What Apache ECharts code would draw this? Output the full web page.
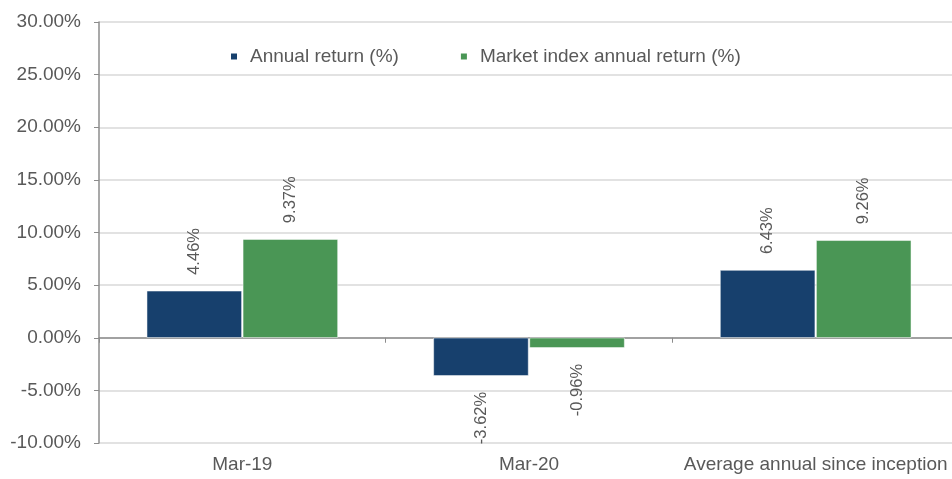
<!DOCTYPE html>
<html>
<head>
<meta charset="utf-8">
<script src="https://cdn.jsdelivr.net/npm/echarts@6/dist/echarts.min.js"></script>
<style>
  html, body { margin: 0; padding: 0; background: #fff; }
  #chart { width: 952px; height: 479px; }
</style>
</head>
<body>
<div id="chart"></div>
<script>
// categories and values (percent)
var categories = ['Mar-19', 'Mar-20', 'Average annual since inception'];
var annualReturn = [4.46, -3.62, 6.43];
var marketReturn = [9.37, -0.96, 9.26];
var seriesNames = ['Annual return (%)', 'Market index annual return (%)'];

var textColor = '#595959';
var fontFamily = '"Liberation Sans", Arial, sans-serif';

// label goes above positive bars, below negative ones
function withLabels(values) {
    return values.map(function (v) {
        return {
            value: v,
            label: {
                position: v >= 0 ? 'top' : 'bottom',
                align: v >= 0 ? 'left' : 'right'
            }
        };
    });
}

var labelStyle = {
    show: true,
    rotate: 90,
    distance: 16,
    verticalAlign: 'middle',
    color: textColor,
    fontFamily: fontFamily,
    fontSize: 16.5,
    formatter: function (p) { return p.value.toFixed(2) + '%'; }
};

var chart = echarts.init(document.getElementById('chart'));
chart.setOption({
    animation: false,
    textStyle: { fontFamily: fontFamily },
    legend: {
        top: 42,
        left: 224,
        itemWidth: 8,
        itemHeight: 8,
        itemGap: 60,
        icon: 'rect',
        textStyle: { color: textColor, fontSize: 19, fontFamily: fontFamily, padding: [0, 0, 0, 7] },
        data: seriesNames
    },
    // plot runs a little past the right edge of the window
    grid: { left: 99, top: 22, width: 860, bottom: 36, containLabel: false, outerBoundsMode: 'none' },
    xAxis: [{
        // labels at the bottom of the plot
        type: 'category',
        data: categories,
        position: 'bottom',
        axisLine: { show: false, onZero: false },
        axisTick: { show: false },
        axisLabel: { color: textColor, fontSize: 19, margin: 12, interval: 0 }
    }, {
        // zero line with ticks
        type: 'category',
        data: categories,
        position: 'bottom',
        axisLine: { show: true, onZero: true, lineStyle: { color: '#8c8c8c', width: 1.5 } },
        axisTick: { show: true, length: 5, inside: false, lineStyle: { color: '#8c8c8c' } },
        axisLabel: { show: false }
    }],
    yAxis: {
        type: 'value',
        min: -10,
        max: 30,
        interval: 5,
        axisLine: { show: true, lineStyle: { color: '#8c8c8c', width: 1.5 } },
        axisTick: { show: true, length: 5, lineStyle: { color: '#8c8c8c' } },
        splitLine: { lineStyle: { color: '#d9d9d9', width: 1.5 } },
        axisLabel: {
            color: textColor,
            fontSize: 19,
            margin: 18,
            formatter: function (v) { return v.toFixed(2) + '%'; }
        }
    },
    series: [{
        name: seriesNames[0],
        type: 'bar',
        data: withLabels(annualReturn),
        barCategoryGap: '33.3%',
        barGap: '1%',
        itemStyle: { color: '#17406d', borderColor: '#ffffff', borderWidth: 0.5 },
        label: labelStyle
    }, {
        name: seriesNames[1],
        type: 'bar',
        data: withLabels(marketReturn),
        barCategoryGap: '33.3%',
        barGap: '1%',
        itemStyle: { color: '#4a9655', borderColor: '#ffffff', borderWidth: 0.5 },
        label: labelStyle
    }]
});
</script>
</body>
</html>
